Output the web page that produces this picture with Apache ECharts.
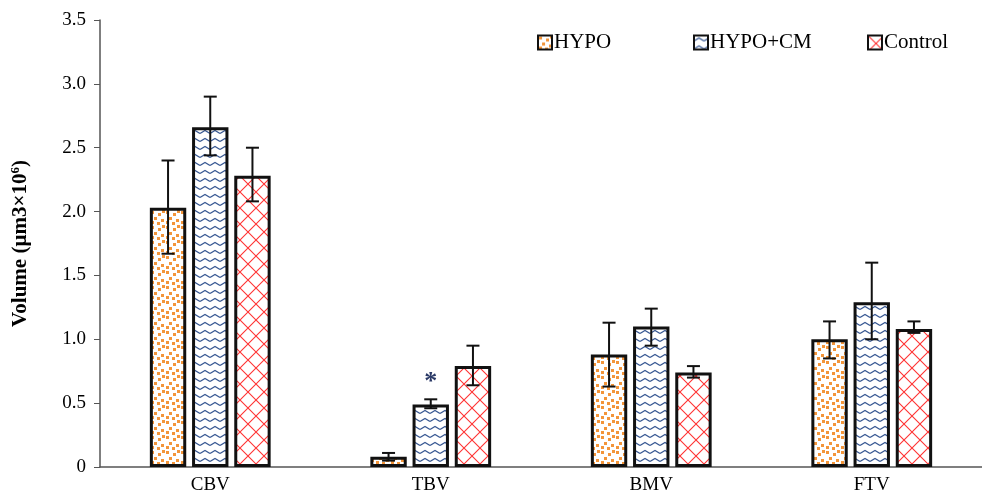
<!DOCTYPE html>
<html>
<head>
<meta charset="utf-8">
<script src="https://cdn.jsdelivr.net/npm/echarts@6/dist/echarts.min.js"></script>
<style>
html,body{margin:0;padding:0;background:#fff;}
#chart{width:982px;height:497px;}
</style>
</head>
<body>
<div id="chart"></div>
<script>
// ---- data ----
const categories = ['CBV', 'TBV', 'BMV', 'FTV'];
const seriesNames = ['HYPO', 'HYPO+CM', 'Control'];
const hypoValues    = [2.03, 0.08, 0.88, 1.00];
const hypoCmValues  = [2.66, 0.49, 1.10, 1.29];
const controlValues = [2.28, 0.79, 0.74, 1.08];
const hypoErrLow     = [1.67, 0.05, 0.63, 0.85];
const hypoErrHigh    = [2.40, 0.11, 1.13, 1.14];
const hypoCmErrLow   = [2.44, 0.46, 0.95, 1.00];
const hypoCmErrHigh  = [2.90, 0.53, 1.24, 1.60];
const controlErrLow  = [2.08, 0.64, 0.70, 1.05];
const controlErrHigh = [2.50, 0.95, 0.79, 1.14];
const yTicks = ['0', '0.5', '1.0', '1.5', '2.0', '2.5', '3.0', '3.5'];
const significance = [{ series: 1, category: 'TBV', mark: '*' }];

// ---- patterns ----
function makeCanvas(w, h, draw) {
  const c = document.createElement('canvas');
  c.width = w; c.height = h;
  const ctx = c.getContext('2d');
  ctx.fillStyle = '#ffffff';
  ctx.fillRect(0, 0, w, h);
  draw(ctx);
  return c;
}
const dotTile = makeCanvas(15, 15, ctx => {
  ctx.fillStyle = '#f3953a';
  [[1,1],[8,3],[4,7],[11,9],[1,11],[7,12],[12,0]].forEach(p => ctx.fillRect(p[0], p[1], 3, 3));
});
const zigTile = makeCanvas(10, 8, ctx => {
  ctx.strokeStyle = '#3a5a94';
  ctx.lineWidth = 1.3;
  ctx.beginPath();
  ctx.moveTo(0, 5.5); ctx.lineTo(5, 2.5); ctx.lineTo(10, 5.5);
  ctx.stroke();
});
const crossTile = makeCanvas(16, 16, ctx => {
  ctx.strokeStyle = '#ff3333';
  ctx.lineWidth = 1.1;
  ctx.beginPath();
  ctx.moveTo(0, 0); ctx.lineTo(16, 16);
  ctx.moveTo(16, 0); ctx.lineTo(0, 16);
  ctx.stroke();
});
const patterns = [dotTile, zigTile, crossTile];
const values = [hypoValues, hypoCmValues, controlValues];
const errLow = [hypoErrLow, hypoCmErrLow, controlErrLow];
const errHigh = [hypoErrHigh, hypoCmErrHigh, controlErrHigh];

const BAR_RATIO = 0.165, GAP_RATIO = 0.16;
const font = '"Liberation Serif", "Times New Roman", serif';

const series = [];
seriesNames.forEach((name, i) => {
  series.push({
    name: name,
    type: 'bar',
    barWidth: (BAR_RATIO * 100) + '%',
    barGap: (GAP_RATIO * 100) + '%',
    data: values[i],
    itemStyle: {
      color: { image: patterns[i], repeat: 'repeat' },
      borderColor: '#111',
      borderWidth: 3
    },
    emphasis: { disabled: true }
  });
});
seriesNames.forEach((name, i) => {
  series.push({
    name: name + ' err',
    type: 'custom',
    z: 10,
    data: categories.map((c, k) => [k, errLow[i][k], errHigh[i][k]]),
    renderItem: function (params, api) {
      const k = api.value(0);
      const band = api.size([1, 0])[0];
      const bw = band * BAR_RATIO;
      const off = (i - 1) * bw * (1 + GAP_RATIO);
      const lo = api.coord([k, api.value(1)]);
      const hi = api.coord([k, api.value(2)]);
      const x = lo[0] + off;
      const cap = 6.5;
      const style = { stroke: '#111', lineWidth: 2 };
      const children = [
        { type: 'line', shape: { x1: x, y1: lo[1], x2: x, y2: hi[1] }, style: style },
        { type: 'line', shape: { x1: x - cap, y1: lo[1], x2: x + cap, y2: lo[1] }, style: style },
        { type: 'line', shape: { x1: x - cap, y1: hi[1], x2: x + cap, y2: hi[1] }, style: style }
      ];
      significance.forEach(s => {
        if (s.series === i && categories[k] === s.category) {
          children.push({
            type: 'text',
            style: { text: s.mark, x: x, y: hi[1] - 17, align: 'center', verticalAlign: 'middle',
                     font: 'bold 26px ' + font, fill: '#2b3a67' }
          });
        }
      });
      return { type: 'group', children: children };
    }
  });
});

const legendPos = [537, 693, 867];
const chart = echarts.init(document.getElementById('chart'), null, { renderer: 'canvas' });
chart.setOption({
  animation: false,
  backgroundColor: '#ffffff',
  grid: { left: 100, right: -10, top: 20, bottom: 30, containLabel: false },
  legend: seriesNames.map((n, i) => ({
    data: [n],
    left: legendPos[i],
    top: 32,
    padding: 0,
    itemWidth: 14,
    itemHeight: 14,
    itemGap: 2,
    icon: 'rect',
    selectedMode: false,
    itemStyle: { borderWidth: 2 },
    textStyle: { fontFamily: font, fontSize: 21, color: '#000', padding: [0, 0, 0, -3] }
  })),
  xAxis: {
    type: 'category',
    data: categories,
    axisLine: { lineStyle: { color: '#555', width: 1.5 } },
    axisTick: { show: false },
    axisLabel: { fontFamily: font, fontSize: 19, color: '#000', margin: 9 }
  },
  yAxis: {
    type: 'value',
    min: 0, max: 3.5, interval: 0.5,
    name: '{a|Volume (µm3×10}{s|6}{a|)}',
    nameLocation: 'middle',
    nameRotate: 90,
    nameGap: 68,
    nameTextStyle: {
      rich: {
        a: { fontFamily: font, fontSize: 21, fontWeight: 'bold', color: '#000' },
        s: { fontFamily: font, fontSize: 13, fontWeight: 'bold', color: '#000', verticalAlign: 'top', padding: [0, 0, 10, 0] }
      }
    },
    splitLine: { show: false },
    axisLine: { show: true, lineStyle: { color: '#555', width: 1.5 } },
    axisTick: { show: true, inside: false, length: 6, lineStyle: { color: '#555' } },
    axisLabel: {
      fontFamily: font, fontSize: 19, color: '#000', margin: 14,
      formatter: function (v) { return yTicks[Math.round(v / 0.5)]; }
    }
  },
  series: series
});
</script>
</body>
</html>
